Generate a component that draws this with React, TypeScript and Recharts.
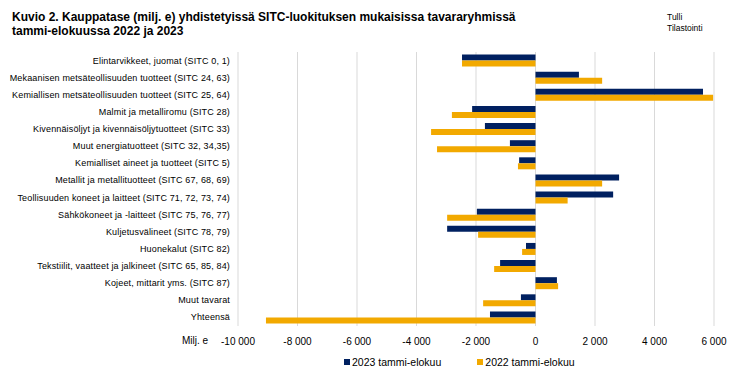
import React from 'react';
import { BarChart, Bar, XAxis, YAxis, CartesianGrid, Legend } from 'recharts';

const categories = [
  'Elintarvikkeet, juomat (SITC 0, 1)',
  'Mekaanisen metsäteollisuuden tuotteet (SITC 24, 63)',
  'Kemiallisen metsäteollisuuden tuotteet (SITC 25, 64)',
  'Malmit ja metalliromu (SITC 28)',
  'Kivennäisöljyt ja kivennäisöljytuotteet (SITC 33)',
  'Muut energiatuotteet (SITC 32, 34,35)',
  'Kemialliset aineet ja tuotteet (SITC 5)',
  'Metallit ja metallituotteet (SITC 67, 68, 69)',
  'Teollisuuden koneet ja laitteet (SITC 71, 72, 73, 74)',
  'Sähkökoneet ja -laitteet (SITC 75, 76, 77)',
  'Kuljetusvälineet (SITC 78, 79)',
  'Huonekalut (SITC 82)',
  'Tekstiilit, vaatteet ja jalkineet (SITC 65, 85, 84)',
  'Kojeet, mittarit yms. (SITC 87)',
  'Muut tavarat',
  'Yhteensä',
];

const values2023 = [-2470, 1460, 5630, -2130, -1700, -860, -550, 2810, 2610, -1970, -2970, -320, -1190, 720, -490, -1530];
const values2022 = [-2470, 2240, 5970, -2810, -3510, -3310, -590, 2240, 1080, -2970, -1930, -450, -1390, 760, -1760, -9060];

const xTicks = [-10000, -8000, -6000, -4000, -2000, 0, 2000, 4000, 6000];

const series = [
  { key: 'v2023', name: '2023 tammi-elokuu', color: '#002060' },
  { key: 'v2022', name: '2022 tammi-elokuu', color: '#F2A900' },
];

const data = categories.map((c, i) => ({ name: c, v2023: values2023[i], v2022: values2022[i] }));

const FONT = '"Liberation Sans", Arial, sans-serif';

const fmt = (v: number) => {
  const s = Math.abs(v).toString().replace(/\B(?=(\d{3})+(?!\d))/g, ' ');
  return (v < 0 ? '-' : '') + s;
};

const YTick = (props: any) => {
  const { x, y, payload } = props;
  return (
    <text x={x} y={y} dy={3} textAnchor="end" fontSize={9} letterSpacing={0.15} fill="#000" fontFamily={FONT}>
      {payload.value}
    </text>
  );
};

const LegendContent = () => (
  <div style={{ display: 'flex', justifyContent: 'flex-start', paddingLeft: 344, fontFamily: FONT, fontSize: 10.5, color: '#000' }}>
    {series.map((s, i) => (
      <div key={s.key} style={{ display: 'flex', alignItems: 'center', marginLeft: i ? 36 : 0 }}>
        <span style={{ display: 'inline-block', width: 6, height: 6, background: s.color, marginRight: 2 }} />
        <span>{s.name}</span>
      </div>
    ))}
  </div>
);

export default function App() {
  return (
    <div style={{ position: 'absolute', left: 0, top: 0, width: 737, height: 378, background: '#fff', fontFamily: FONT }}>
      <div style={{ position: 'absolute', left: 12, top: 10, fontSize: 12, fontWeight: 'bold', lineHeight: '14px', color: '#000', whiteSpace: 'nowrap' }}>
        Kuvio 2. Kauppatase (milj. e) yhdistetyissä SITC-luokituksen mukaisissa tavararyhmissä
        <br />
        tammi-elokuussa 2022 ja 2023
      </div>
      <div style={{ position: 'absolute', left: 667, top: 12, fontSize: 8.5, lineHeight: '11px', color: '#000' }}>
        Tulli
        <br />
        Tilastointi
      </div>
      <div style={{ position: 'absolute', left: 182, top: 335, fontSize: 10, color: '#000' }}>Milj. e</div>
      <BarChart
        width={737}
        height={378}
        data={data}
        layout="vertical"
        margin={{ top: 52, right: 23, bottom: 22, left: 0 }}
        barCategoryGap="15%"
        barGap={0}
      >
        <CartesianGrid horizontal={false} stroke="#d9d9d9" strokeWidth={1} />
        <XAxis
          type="number"
          domain={[-10000, 6000]}
          ticks={xTicks}
          tickFormatter={fmt}
          axisLine={false}
          tickLine={false}
          tickMargin={6}
          height={30}
          tick={{ fontSize: 10, fill: '#000', fontFamily: FONT }}
          interval={0}
        />
        <YAxis
          type="category"
          dataKey="name"
          width={238}
          axisLine={false}
          tickLine={false}
          tickSize={0}
          tickMargin={8}
          tick={<YTick />}
          interval={0}
        />
        {series.map((s) => (
          <Bar key={s.key} dataKey={s.key} name={s.name} fill={s.color} isAnimationActive={false} />
        ))}
        <Legend
          layout="horizontal"
          verticalAlign="middle"
          align="center"
          content={<LegendContent />}
          wrapperStyle={{ top: 356, left: 0, width: 737 }}
        />
      </BarChart>
    </div>
  );
}
